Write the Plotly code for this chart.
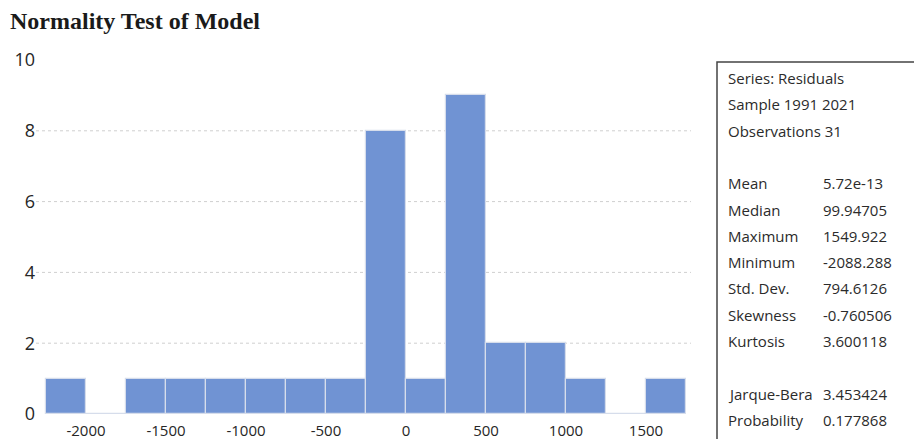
import plotly.graph_objects as go

# ---- data ----
bin_centers = [-2125, -1875, -1625, -1375, -1125, -875, -625, -375, -125, 125, 375, 625, 875, 1125, 1375, 1625]
counts = [1, 0, 1, 1, 1, 1, 1, 1, 8, 1, 9, 2, 2, 1, 0, 1]
bin_width = 250
x_ticks = [-2000, -1500, -1000, -500, 0, 500, 1000, 1500]
y_ticks = [0, 2, 4, 6, 8, 10]
grid_levels = [2, 4, 6, 8]

stat_header = ["Series: Residuals", "Sample 1991 2021", "Observations 31"]
stat_labels = ["Mean", "Median", "Maximum", "Minimum", "Std. Dev.", "Skewness", "Kurtosis"]
stat_values = ["5.72e-13", "99.94705", "1549.922", "-2088.288", "794.6126", "-0.760506", "3.600118"]
test_labels = ["Jarque-Bera", "Probability"]
test_values = ["3.453424", "0.177868"]

W, H = 922, 439
ML, MR, MT, MB = 28, 239, 52, 33
PW, PH = W - ML - MR, H - MT - MB


def px(x):
    return (x - ML) / PW


def py(y):
    return (H - MB - y) / PH


fig = go.Figure()
fig.add_trace(go.Bar(
    x=bin_centers, y=counts, width=[bin_width] * len(bin_centers),
    marker=dict(color="#7093D3", line=dict(color="#D6DDEB", width=1.2)),
    hoverinfo="x+y",
))

shapes = []
for g in grid_levels:
    shapes.append(dict(type="line", xref="paper", yref="y", x0=0, x1=1, y0=g, y1=g,
                       line=dict(color="#CFCFCF", width=1, dash="dot"), layer="below"))
# stats box
shapes.append(dict(type="rect", xref="paper", yref="paper",
                   x0=px(709), x1=px(930), y0=py(450), y1=py(54),
                   line=dict(color="#444444", width=1.5), fillcolor="rgba(0,0,0,0)"))

annotations = [dict(text="<b>Normality Test of Model</b>", xref="paper", yref="paper",
                    x=px(0), y=py(13), xanchor="left", yanchor="middle", showarrow=False,
                    font=dict(family="Liberation Serif", size=24, color="#1a1a1a"))]

font_box = dict(family="Open Sans", size=15, color="#2b2b2b")
row_h = 26.3
y0 = 70
rows = []
for i, t in enumerate(stat_header):
    rows.append((t, None, y0 + i * row_h))
for i, (l, v) in enumerate(zip(stat_labels, stat_values)):
    rows.append((l, v, y0 + (i + 4) * row_h))
for i, (l, v) in enumerate(zip(test_labels, test_values)):
    rows.append((l, v, y0 + (i + 12) * row_h))
for l, v, yy in rows:
    annotations.append(dict(text=l, xref="paper", yref="paper", x=px(718), y=py(yy),
                            xanchor="left", yanchor="middle", showarrow=False, font=font_box))
    if v is not None:
        annotations.append(dict(text=v, xref="paper", yref="paper", x=px(813), y=py(yy),
                                xanchor="left", yanchor="middle", showarrow=False, font=font_box))

fig.update_layout(
    width=W, height=H,
    margin=dict(l=ML, r=MR, t=MT, b=MB),
    paper_bgcolor="white", plot_bgcolor="white",
    showlegend=False,
    bargap=0,
    font=dict(family="Open Sans", size=14, color="#262626"),
    xaxis=dict(range=[-2312.5, 1781.25], tickvals=x_ticks, ticktext=[str(v) for v in x_ticks],
               showgrid=False, zeroline=False, showline=False,
               ticks="outside", ticklen=3, tickcolor="rgba(0,0,0,0)", automargin=False,
               tickfont=dict(size=15, color="#262626")),
    yaxis=dict(range=[0, 10], tickvals=y_ticks, showgrid=False, zeroline=False, showline=False,
               ticks="", automargin=False,
               tickfont=dict(size=18, color="#262626")),
    shapes=shapes,
    annotations=annotations,
)

fig.write_html("out.html")
